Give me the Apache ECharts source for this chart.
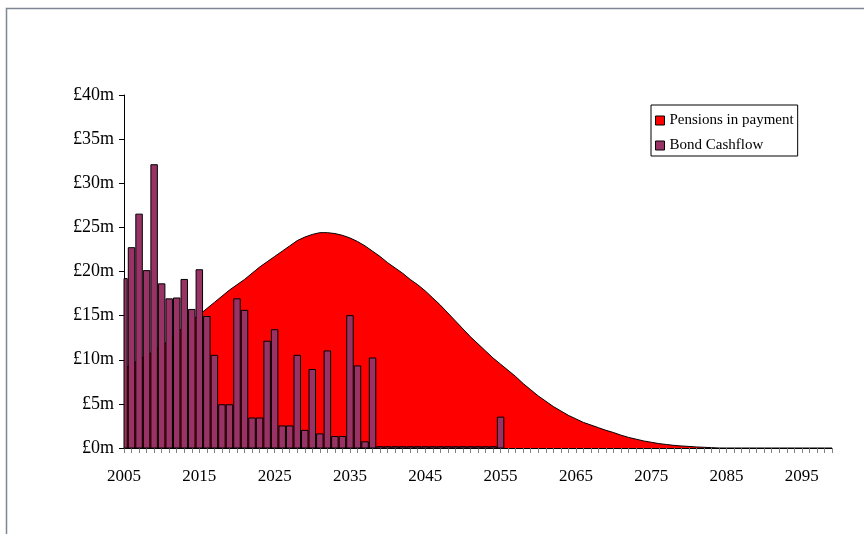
<!DOCTYPE html>
<html>
<head>
<meta charset="utf-8">
<script src="https://cdn.jsdelivr.net/npm/echarts@6/dist/echarts.min.js"></script>
<style>
  html, body { margin: 0; padding: 0; background: #fff; }
  #chart { width: 864px; height: 534px; }
</style>
</head>
<body>
<div id="chart"></div>
<script>
// Years on the category axis, 2005 to 2099
const years = [
  '2005','2006','2007','2008','2009','2010','2011','2012','2013','2014',
  '2015','2016','2017','2018','2019','2020','2021','2022','2023','2024',
  '2025','2026','2027','2028','2029','2030','2031','2032','2033','2034',
  '2035','2036','2037','2038','2039','2040','2041','2042','2043','2044',
  '2045','2046','2047','2048','2049','2050','2051','2052','2053','2054',
  '2055','2056','2057','2058','2059','2060','2061','2062','2063','2064',
  '2065','2066','2067','2068','2069','2070','2071','2072','2073','2074',
  '2075','2076','2077','2078','2079','2080','2081','2082','2083','2084',
  '2085','2086','2087','2088','2089','2090','2091','2092','2093','2094',
  '2095','2096','2097','2098','2099'
];

// Pensions in payment, £m per year
const pensions = [
  9.0, 9.5, 10.0, 10.5, 11.0, 11.6, 12.2, 13.0, 13.8, 14.5,
  15.1, 15.8, 16.5, 17.2, 17.9, 18.5, 19.1, 19.8, 20.5, 21.1,
  21.7, 22.3, 22.9, 23.5, 23.9, 24.2, 24.4, 24.4, 24.3, 24.1,
  23.8, 23.4, 22.9, 22.3, 21.7, 21.0, 20.4, 19.8, 19.1, 18.5,
  17.8, 17.0, 16.2, 15.3, 14.4, 13.5, 12.6, 11.8, 11.0, 10.2,
  9.5, 8.8, 8.1, 7.3, 6.6, 5.9, 5.3, 4.7, 4.2, 3.7,
  3.3, 2.9, 2.6, 2.3, 2.0, 1.75, 1.45, 1.2, 1.0, 0.8,
  0.65, 0.5, 0.4, 0.3, 0.23, 0.18, 0.12, 0.08, 0.04, 0,
  0, 0, 0, 0, 0, 0, 0, 0, 0, 0,
  0, 0, 0, 0, 0
];

// Bond cashflow, £m per year (2005 to 2055)
const bondCashflow = [
  19.2, 22.7, 26.5, 20.1, 32.1, 18.6, 16.9, 17.0, 19.1, 15.7,
  20.2, 14.9, 10.5, 4.9, 4.9, 16.9, 15.6, 3.4, 3.4, 12.1,
  13.4, 2.5, 2.5, 10.5, 2.0, 8.9, 1.6, 11.0, 1.3, 1.3,
  15.0, 9.3, 0.7, 10.2, 0.15, 0.15, 0.15, 0.15, 0.15, 0.15,
  0.15, 0.15, 0.15, 0.15, 0.15, 0.15, 0.15, 0.15, 0.15, 0.15,
  3.5
];

// Value axis ticks
const yMin = 0, yMax = 40, yStep = 5;

const serif = '"Liberation Serif", "Times New Roman", serif';
const plum = '#993366';

// Bars are centred on the year ticks; clip them to the plot area so the
// first one is cut at the value axis.
function renderBondBar(params, api) {
  const idx = api.value(0);
  const val = api.value(1);
  const top = api.coord([idx, val]);
  const base = api.coord([idx, 0]);
  const w = api.size([1, 0])[0] * 0.86;
  const rect = echarts.graphic.clipRectByRect(
    { x: top[0] - w / 2, y: top[1], width: w, height: base[1] - top[1] },
    { x: params.coordSys.x, y: params.coordSys.y,
      width: params.coordSys.width, height: params.coordSys.height }
  );
  if (!rect) return null;
  return {
    type: 'rect',
    shape: rect,
    style: { fill: plum, stroke: '#000', lineWidth: 1 }
  };
}

const chart = echarts.init(document.getElementById('chart'), null, { renderer: 'canvas' });

chart.setOption({
  backgroundColor: '#ffffff',
  animation: false,
  graphic: [{
    type: 'rect',
    shape: { x: 6.5, y: 8.5, width: 900, height: 600 },
    style: { fill: 'none', stroke: '#7e8593', lineWidth: 1.5 },
    silent: true
  }],
  legend: {
    orient: 'vertical',
    left: 651,
    top: 105,
    width: 146,
    padding: [8, 4, 3, 4],
    itemGap: 10,
    itemWidth: 9,
    itemHeight: 9,
    borderColor: '#000',
    borderWidth: 1,
    backgroundColor: '#fff',
    textStyle: { fontFamily: serif, fontSize: 15, color: '#000' },
    itemStyle: { borderColor: '#000', borderWidth: 1 },
    data: [
      { name: 'Pensions in payment', icon: 'rect' },
      { name: 'Bond Cashflow', icon: 'rect' }
    ]
  },
  grid: { left: 124, right: 32, top: 95, bottom: 86, containLabel: false },
  xAxis: {
    type: 'category',
    data: years,
    boundaryGap: false,
    axisLine: { lineStyle: { color: '#000', width: 1 } },
    axisTick: { show: true, interval: 0, length: 5, lineStyle: { color: '#808080' } },
    axisLabel: {
      interval: 9,
      margin: 20,
      fontFamily: serif,
      fontSize: 17,
      color: '#000'
    },
    splitLine: { show: false }
  },
  yAxis: {
    type: 'value',
    min: yMin,
    max: yMax,
    interval: yStep,
    axisLine: { show: true, lineStyle: { color: '#000', width: 1 } },
    axisTick: { show: true, length: 5, lineStyle: { color: '#000' } },
    axisLabel: {
      margin: 10,
      fontFamily: serif,
      fontSize: 18,
      color: '#000',
      formatter: '£{value}m'
    },
    splitLine: { show: false }
  },
  series: [
    {
      name: 'Pensions in payment',
      type: 'line',
      data: pensions,
      symbol: 'none',
      z: 1,
      itemStyle: { color: '#ff0000' },
      lineStyle: { color: '#000', width: 1 },
      areaStyle: { color: '#ff0000', opacity: 1 }
    },
    {
      name: 'Bond Cashflow',
      type: 'custom',
      renderItem: renderBondBar,
      data: bondCashflow.map((v, i) => [years[i], v]),
      encode: { x: 0, y: 1 },
      z: 3,
      itemStyle: { color: plum }
    }
  ]
});
</script>
</body>
</html>
